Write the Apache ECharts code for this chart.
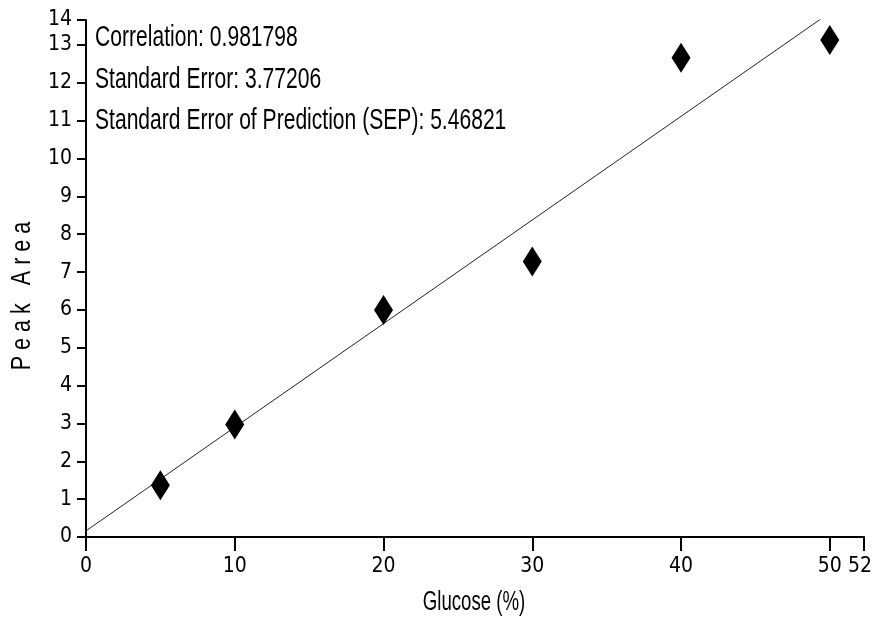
<!DOCTYPE html>
<html>
<head>
<meta charset="utf-8">
<script src="https://cdn.jsdelivr.net/npm/echarts@6/dist/echarts.min.js"></script>
<style>html,body{margin:0;padding:0;background:#fff}#c{width:873px;height:620px}</style>
</head>
<body>
<div id="c"></div>
<script>
const glucose = [5, 10, 20, 30, 40, 50];
const peakArea = [1.37, 2.97, 6.0, 7.28, 12.66, 13.13];
const statsLines = [
  'Correlation: 0.981798',
  'Standard Error: 3.77206',
  'Standard Error of Prediction (SEP): 5.46821'
];
const xAxisMax = 52.3;
const yAxisMax = 13.66;
const xTitle = 'Glucose (%)';
const yTitle = 'P e a k   A r e a';

// least-squares fit from the data
const n = glucose.length;
const mx = glucose.reduce((a, b) => a + b, 0) / n;
const my = peakArea.reduce((a, b) => a + b, 0) / n;
let sxy = 0, sxx = 0;
for (let i = 0; i < n; i++) { sxy += (glucose[i] - mx) * (peakArea[i] - my); sxx += (glucose[i] - mx) ** 2; }
const slope = sxy / sxx, intercept = my - slope * mx;
const fitLine = [[0, intercept], [xAxisMax, intercept + slope * xAxisMax]];

const NARROW = '"DejaVu Sans Condensed", sans-serif';
const ARIAL = '"Liberation Sans", Arial, sans-serif';
const chart = echarts.init(document.getElementById('c'));
chart.setOption({
  animation: false,
  backgroundColor: '#fff',
  grid: { left: 86, right: 9, top: 20, bottom: 83, containLabel: false, outerBoundsMode: 'none' },
  xAxis: {
    type: 'value', min: 0, max: xAxisMax, interval: 10,
    axisLine: { lineStyle: { color: '#000', width: 2 } },
    axisTick: { show: true, length: 14, lineStyle: { color: '#000', width: 2 } },
    axisLabel: { fontFamily: NARROW, fontSize: 21, color: '#000', margin: 19, showMaxLabel: true, showMinLabel: true,
      formatter: v => v === xAxisMax ? '{edge|' + Math.round(v) + '}' : String(Math.round(v)),
      rich: { edge: { fontFamily: NARROW, fontSize: 21, color: '#000', padding: [0, 8, 0, 0] } } },
    splitLine: { show: false }
  },
  yAxis: {
    type: 'value', min: 0, max: yAxisMax, interval: 1,
    axisLine: { lineStyle: { color: '#000', width: 2 } },
    axisTick: { show: true, length: 9, lineStyle: { color: '#000', width: 2 } },
    axisLabel: { fontFamily: NARROW, fontSize: 21, color: '#000', margin: 14, showMaxLabel: true, showMinLabel: true,
      formatter: v => String(Math.round(v)) },
    splitLine: { show: false }
  },
  graphic: [
    ...statsLines.map((t, i) => ({
      type: 'text', x: 95, y: 38 + i * 41.5, scaleX: 0.727,
      style: { text: t, font: '29px ' + ARIAL, fill: '#000', verticalAlign: 'middle', align: 'left' }
    })),
    {
      type: 'text', x: 474, y: 603, scaleX: 0.69,
      style: { text: xTitle, font: '27px ' + ARIAL, fill: '#000', align: 'center', verticalAlign: 'middle' }
    },
    {
      type: 'text', x: 22, y: 296, rotation: Math.PI / 2, scaleX: 0.77,
      style: { text: yTitle, font: '28px ' + ARIAL, fill: '#000', align: 'center', verticalAlign: 'middle' }
    }
  ],
  series: [
    {
      type: 'line', data: fitLine, symbol: 'none', clip: true,
      lineStyle: { color: '#222', width: 1 }, z: 2
    },
    {
      type: 'scatter', data: glucose.map((x, i) => [x, peakArea[i]]),
      symbol: 'diamond', symbolSize: [19, 30],
      itemStyle: { color: '#000', opacity: 1 }, z: 3
    }
  ]
});
</script>
</body>
</html>
